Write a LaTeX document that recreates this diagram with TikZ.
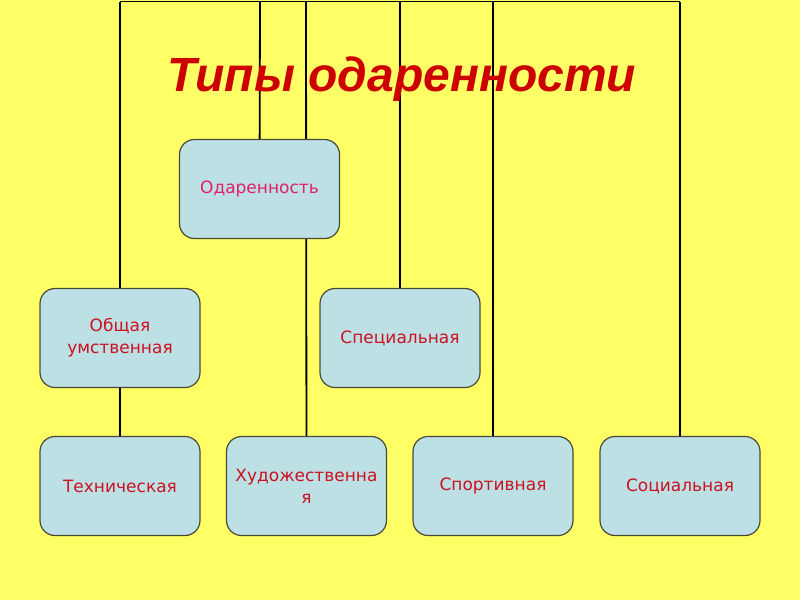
\documentclass[tikz,border=0pt]{standalone}
\usepackage{fontspec}
\setmainfont{Liberation Sans}
\newfontfamily\boxfont{DejaVu Sans}
\definecolor{bgyellow}{HTML}{FFFF66}
\definecolor{boxfill}{HTML}{BCE0E4}
\definecolor{boxline}{HTML}{4A4A3A}
\definecolor{titlered}{HTML}{CC0000}
\definecolor{textred}{HTML}{CC1122}
\definecolor{textpink}{HTML}{E0206A}
\begin{document}
\begin{tikzpicture}[x=1pt,y=-1pt,
  rbox/.style={draw=boxline, line width=1.2pt, fill=boxfill, rounded corners=15pt,
    minimum width=160pt, minimum height=99pt, inner sep=0pt, align=center,
    font=\boxfont\fontsize{17}{22}\selectfont, text=textred},
  conn/.style={line width=1.8pt, black}]
\fill[bgyellow] (0,0) rectangle (800,600);
\useasboundingbox (0,0) rectangle (800,600);
% top corners
\coordinate (tl) at (120,1.5);
\coordinate (tr) at (680,1.5);
\coordinate (t2) at (260,1.5);
\coordinate (t3) at (306,1.5);
\coordinate (t4) at (400,1.5);
\coordinate (t5) at (493,1.5);
% nodes (positions)
\path
 (259.5,189) coordinate (pA)
 (120,338) coordinate (pB)
 (400,338) coordinate (pC)
 (120,486) coordinate (pD)
 (306.5,486) coordinate (pE)
 (493,486) coordinate (pF)
 (680,486) coordinate (pG);
% connectors
\draw[conn] (tl) -- (tr);
\draw[conn] (tl) -- (pB);
\draw[conn] (pB) -- (pD);
\draw[conn] (t2) -- (pA);
\draw[conn] (t3) -- (pE);
\draw[conn, line width=2.6pt] (t4) -- (pC);
\draw[conn] (t5) -- (pF);
\draw[conn] (tr) -- (pG);
% boxes
\node[rbox, text=textpink] (A) at (pA) {Одаренность};
\node[rbox] (B) at (pB) {Общая\\умственная};
\node[rbox] (C) at (pC) {Специальная};
\node[rbox] (D) at (pD) {Техническая};
\node[rbox] (E) at (pE) {Художественна\\я};
\node[rbox] (F) at (pF) {Спортивная};
\node[rbox] (G) at (pG) {Социальная};
% title
\node[anchor=base, text=titlered, font=\fontsize{48}{54}\selectfont\bfseries\itshape] (T) at (402,91) {Типы одаренности};
\end{tikzpicture}
\end{document}
